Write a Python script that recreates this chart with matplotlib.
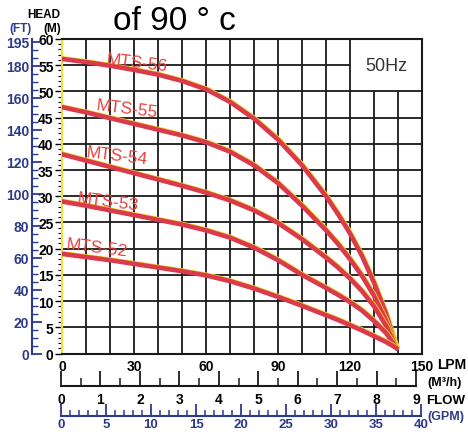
import matplotlib
matplotlib.use("Agg")
import matplotlib.pyplot as plt
import matplotlib.patheffects as pe
from matplotlib.ticker import MultipleLocator

plt.rcParams['font.family'] = ['Liberation Sans', 'DejaVu Sans']

# flow (LPM) and head (m)
flow = [0, 10, 20, 30, 40, 50, 60, 70, 80, 90, 100, 110, 115, 120, 125, 130, 135, 139.5]
mts56 = [56.2, 55.6, 54.9, 54.1, 53.2, 52.0, 50.4, 48.0, 44.8, 40.8, 35.9, 30.0, 26.6, 22.9, 18.6, 13.5, 7.6, 1.0]
mts55 = [47.0, 46.0, 44.9, 43.8, 42.7, 41.6, 40.3, 38.5, 35.9, 32.5, 28.2, 23.5, 20.9, 18.0, 14.8, 11.0, 6.3, 1.0]
mts54 = [38.0, 36.8, 35.6, 34.4, 33.2, 32.0, 30.7, 29.2, 27.3, 24.9, 21.8, 18.3, 16.4, 14.3, 11.9, 9.0, 5.3, 1.0]
mts53 = [29.0, 28.2, 27.3, 26.4, 25.5, 24.6, 23.5, 22.1, 20.2, 17.8, 15.0, 12.5, 11.2, 9.8, 8.2, 6.2, 3.9, 1.0]
mts52 = [19.0, 18.4, 17.8, 17.1, 16.4, 15.7, 14.9, 13.8, 12.4, 10.8, 9.1, 7.3, 6.4, 5.4, 4.4, 3.3, 2.2, 1.0]
models = ["MTS-56", "MTS-55", "MTS-54", "MTS-53", "MTS-52"]

lpm_ticks = [0, 30, 60, 90, 120, 150]
m_ticks = list(range(0, 61, 5))
ft_ticks = [0, 20, 40, 60, 80, 100, 120, 140, 160, 180, 195]
m3h_ticks = list(range(0, 10))
gpm_ticks = [0, 5, 10, 15, 20, 25, 30, 35, 40]

RED = '#da3a4c'
TXT_RED = '#e6423c'
BLUE = '#2d3a8c'
W, H = 468, 435


def fx(px):
    return px / W


def fy(py):
    return 1 - py / H


fig = plt.figure(figsize=(W / 100, H / 100), dpi=100)
fig.patch.set_facecolor('white')

rect = [fx(62), fy(354.5), 360 / W, 314.5 / H]
ax = fig.add_axes(rect)
ax.set_xlim(0, 150)
ax.set_ylim(0, 60)

# grid, leaving the 50Hz box empty
xs = list(range(10, 150, 10))
ax.vlines(xs, 0, [50 if x >= 130 else 60 for x in xs], color='#1a1a1a', lw=1.3, zorder=1)
ys = list(range(5, 60, 5))
ax.hlines(ys, 0, [120 if y == 55 else 150 for y in ys], color='#1a1a1a', lw=1.3, zorder=1)

for sp in ['top', 'right', 'bottom']:
    ax.spines[sp].set_linewidth(1.5)
    ax.spines[sp].set_color('#1a1a1a')
ax.spines['left'].set_color('#e8df3a')
ax.spines['left'].set_linewidth(1.5)

ax.set_yticks(m_ticks)
ax.yaxis.set_minor_locator(MultipleLocator(1))
ax.tick_params(axis='y', which='major', direction='out', length=5, width=1, color='black',
               pad=1, labelsize=10)
ax.tick_params(axis='y', which='minor', direction='out', length=3, width=0.8, color='black')
for lab in ax.get_yticklabels():
    lab.set_fontweight('bold')

ax.set_xticks(lpm_ticks)
ax.tick_params(axis='x', length=0, pad=4, labelsize=10)
for lab in ax.get_xticklabels():
    lab.set_fontweight('bold')

for vals, name, pos in zip([mts56, mts55, mts54, mts53, mts52], models,
                           [(31, 55.6), (27, 46.8), (23, 37.8), (19, 29.0), (14.5, 20.2)]):
    ax.plot(flow, vals, color=RED, lw=3.3, solid_capstyle='round', solid_joinstyle='round', zorder=3,
            path_effects=[pe.SimpleLineShadow(offset=(0.45, 0.45), shadow_color='#f0d428', alpha=1),
                          pe.Normal()])
    ax.text(pos[0], pos[1], name, color=TXT_RED, fontsize=12.5, rotation=-7,
            ha='center', va='center', zorder=4)

ax.text(135, 55, '50Hz', fontsize=13, color='#333333', ha='center', va='center')

# feet axis
axf = fig.add_axes(rect, facecolor='none')
axf.set_ylim(0, 60 * 3.2808)
axf.set_xlim(0, 1)
for sp in ['top', 'right', 'bottom']:
    axf.spines[sp].set_visible(False)
axf.spines['left'].set_position(('outward', 21.6))
axf.spines['left'].set_color(BLUE)
axf.spines['left'].set_linewidth(1.5)
axf.set_xticks([])
axf.set_yticks(ft_ticks)
axf.yaxis.set_minor_locator(MultipleLocator(5))
axf.tick_params(axis='y', which='major', direction='in', length=7, width=1.3, color=BLUE,
                labelcolor=BLUE, pad=2, labelsize=10)
axf.tick_params(axis='y', which='minor', direction='in', length=4, width=1, color=BLUE)
for lab in axf.get_yticklabels():
    lab.set_fontweight('bold')

# m3/h axis
axm = fig.add_axes([fx(61), fy(387), 355 / W, 0.0001], facecolor='none')
axm.set_xlim(0, 9)
for sp in ['top', 'right', 'left']:
    axm.spines[sp].set_visible(False)
axm.spines['bottom'].set_linewidth(1.5)
axm.spines['bottom'].set_color('#1a1a1a')
axm.set_yticks([])
axm.set_xticks(m3h_ticks)
axm.xaxis.set_minor_locator(MultipleLocator(0.5))
axm.tick_params(axis='x', which='major', direction='in', length=10.5, width=1.3, color='#1a1a1a',
                pad=4, labelsize=10)
axm.tick_params(axis='x', which='minor', direction='in', length=5.5, width=1.1, color='#1a1a1a')
for lab in axm.get_xticklabels():
    lab.set_fontweight('bold')

# GPM axis
axg = fig.add_axes([fx(61), fy(417), 360 / W, 0.0001], facecolor='none')
axg.set_xlim(0, 40)
for sp in ['top', 'right', 'left']:
    axg.spines[sp].set_visible(False)
axg.spines['bottom'].set_linewidth(1.5)
axg.spines['bottom'].set_color(BLUE)
axg.set_yticks([])
axg.set_xticks(gpm_ticks)
axg.xaxis.set_minor_locator(MultipleLocator(1))
axg.tick_params(axis='x', which='major', direction='in', length=9, width=1.3, color=BLUE,
                labelcolor=BLUE, pad=1.5, labelsize=9.5)
axg.tick_params(axis='x', which='minor', direction='in', length=4.5, width=1.1, color=BLUE)
for lab in axg.get_xticklabels():
    lab.set_fontweight('bold')

# labels around the chart
fig.text(fx(174), fy(22), 'of 90 ° c', fontsize=24, ha='center', va='center', color='black')
fig.text(fx(44), fy(15), 'HEAD', fontsize=8.5, fontweight='bold', ha='center', va='center')
fig.text(fx(20), fy(29), '(FT)', fontsize=8.5, fontweight='bold', ha='center', va='center', color=BLUE)
fig.text(fx(52), fy(29), '(M)', fontsize=8.5, fontweight='bold', ha='center', va='center')
fig.text(fx(437), fy(365), 'LPM', fontsize=10, fontweight='bold', ha='left', va='center')
fig.text(fx(445), fy(383), '(M³/h)', fontsize=9, fontweight='bold', ha='center', va='center')
fig.text(fx(446), fy(401), 'FLOW', fontsize=9.5, fontweight='bold', ha='center', va='center')
fig.text(fx(446), fy(417), '(GPM)', fontsize=9, fontweight='bold', ha='center', va='center', color=BLUE)

fig.savefig('out.png', dpi=100, facecolor='white')
